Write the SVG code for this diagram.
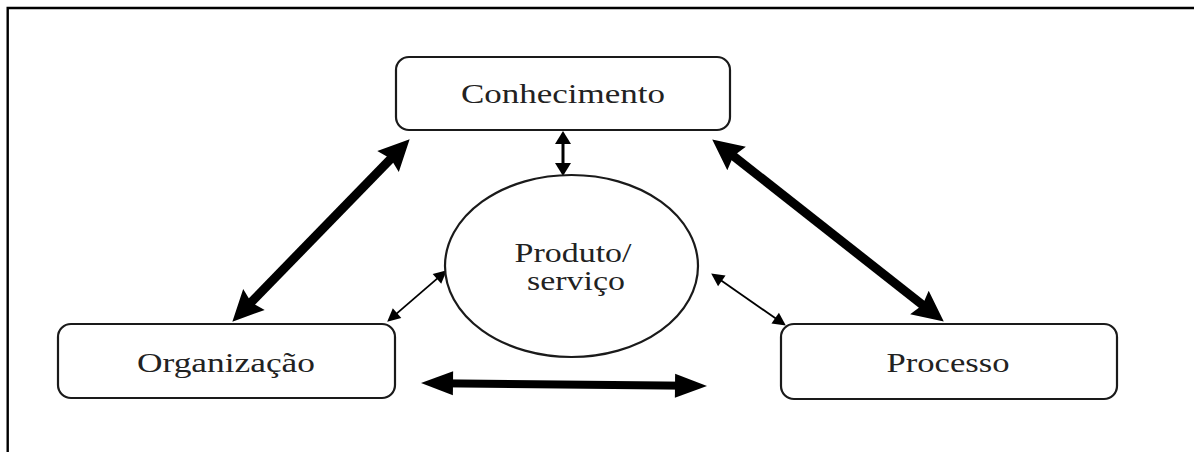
<svg xmlns="http://www.w3.org/2000/svg" width="1194" height="452" viewBox="0 0 1194 452">
<style>
.box{fill:#fff;stroke:#1a1a1a;stroke-width:2.2}
.lbl{font-family:"Liberation Serif","Times New Roman",serif;font-size:27px;fill:#222;text-anchor:middle}
.big{stroke:#000;stroke-width:9;fill:none;marker-start:url(#hb);marker-end:url(#hb)}
.bot{stroke:#000;stroke-width:8;fill:none;marker-start:url(#hh);marker-end:url(#hh)}
.med{stroke:#000;stroke-width:3;fill:none;marker-start:url(#hm);marker-end:url(#hm)}
.sml{stroke:#000;stroke-width:1.8;fill:none;marker-start:url(#hs);marker-end:url(#hs)}
</style>
<defs>
<marker id="hb" markerUnits="userSpaceOnUse" orient="auto-start-reverse" refX="15" refY="0" markerWidth="30" markerHeight="30" overflow="visible"><path d="M0,-15 L31,0 L0,15 L4,0 Z" fill="#000"/></marker>
<marker id="hh" markerUnits="userSpaceOnUse" orient="auto-start-reverse" refX="16" refY="0" markerWidth="32" markerHeight="24" overflow="visible"><path d="M0,-12 L32,0 L0,12 Z" fill="#000"/></marker>
<marker id="hm" markerUnits="userSpaceOnUse" orient="auto-start-reverse" refX="6" refY="0" markerWidth="13" markerHeight="16" overflow="visible"><path d="M0,-8 L13,0 L0,8 Z" fill="#000"/></marker>
<marker id="hs" markerUnits="userSpaceOnUse" orient="auto-start-reverse" refX="6" refY="0" markerWidth="13" markerHeight="13" overflow="visible"><path d="M0,-6.5 L13,0 L0,6.5 Z" fill="#000"/></marker>
</defs>
<rect width="1194" height="452" fill="#fff"/>
<g id="frame" stroke="#000" stroke-width="2.4" fill="none">
<path d="M7.7,452 V8 H1194"/>
</g>
<g id="connectors">
<line class="big" x1="398.5" y1="150.8" x2="243.5" y2="310.2"/>
<line class="big" x1="724.8" y1="149.3" x2="931.2" y2="311.7"/>
<line class="med" x1="563" y1="138" x2="563" y2="169"/>
<line class="sml" x1="392.5" y1="317.1" x2="441.5" y2="274.9"/>
<line class="sml" x1="716.9" y1="277.4" x2="780.1" y2="321.6"/>
<line class="bot" x1="437" y1="383.2" x2="691" y2="385.8"/>
</g>
<g id="conhecimento">
<rect class="box" x="396" y="57" width="334" height="73" rx="13"/>
<text class="lbl" x="563" y="103" textLength="204" lengthAdjust="spacingAndGlyphs">Conhecimento</text>
</g>
<g id="produto">
<ellipse class="box" cx="571.5" cy="266" rx="126.5" ry="91"/>
<text class="lbl" x="573" y="262" textLength="117" lengthAdjust="spacingAndGlyphs">Produto/</text>
<text class="lbl" x="576" y="290" textLength="98" lengthAdjust="spacingAndGlyphs">serviço</text>
</g>
<g id="organizacao">
<rect class="box" x="58" y="324" width="337" height="74" rx="13"/>
<text class="lbl" x="226" y="372" textLength="178" lengthAdjust="spacingAndGlyphs">Organização</text>
</g>
<g id="processo">
<rect class="box" x="781" y="324" width="336" height="75" rx="13"/>
<text class="lbl" x="948" y="372" textLength="123" lengthAdjust="spacingAndGlyphs">Processo</text>
</g>
</svg>
